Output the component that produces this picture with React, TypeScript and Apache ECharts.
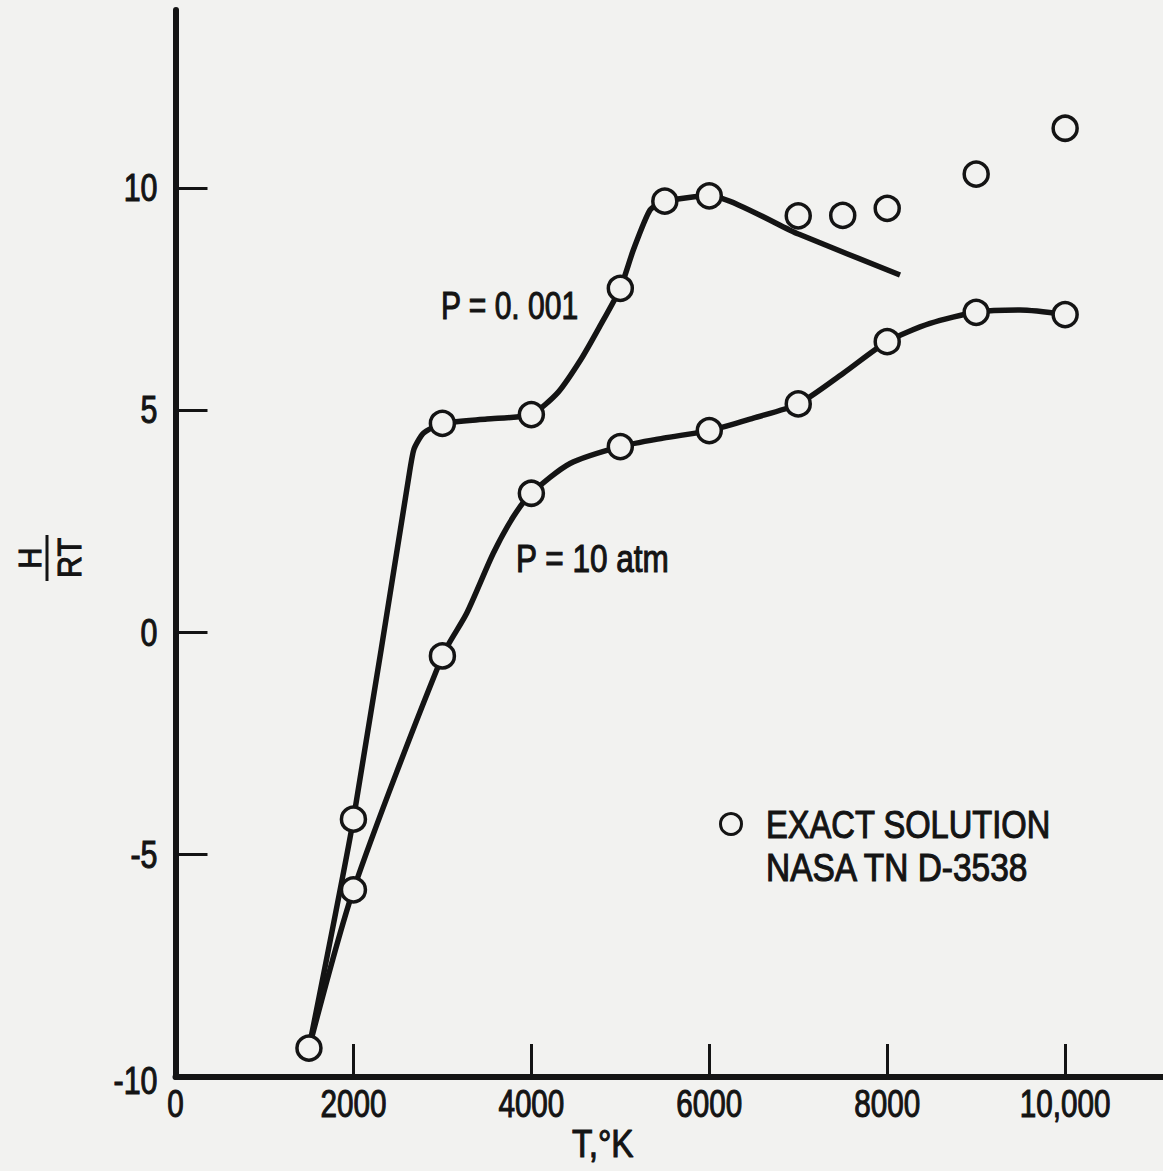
import React, { useEffect, useRef } from "react";
import * as echarts from "echarts";

// ---- data ----
const xTickValues = [2000, 4000, 6000, 8000, 10000];
const xLabelValues = [0, 2000, 4000, 6000, 8000, 10000];
const yTickValues = [-5, 0, 5, 10];
const yLabelValues = [-10, -5, 0, 5, 10];

// faired curve P = 0.001
const curveLowPressure: [number, number][] = [
  [1500, -9.35], [2000, -4.2], [2617, 3.43], [2680, 4.12], [2786, 4.48],
  [3000, 4.7], [3500, 4.8], [4000, 4.9], [4300, 5.4], [4560, 6.15],
  [4760, 6.85], [5000, 7.74], [5146, 8.6], [5334, 9.5], [5500, 9.7],
  [6000, 9.82], [7003, 8.96], [8144, 8.04],
];
// faired curve P = 10 atm
const curveHighPressure: [number, number][] = [
  [1500, -9.35], [2000, -5.79], [3000, -0.53], [3273, 0.43], [3572, 1.78],
  [3797, 2.6], [4000, 3.13], [4435, 3.8], [5000, 4.18], [5483, 4.37],
  [6000, 4.54], [6495, 4.82], [7000, 5.14], [7507, 5.83], [8000, 6.54],
  [8481, 6.95], [9000, 7.2], [9493, 7.25], [10000, 7.15],
];
// exact solution, NASA TN D-3538
const exactLowPressure: [number, number][] = [
  [1500, -9.35], [2000, -4.2], [3000, 4.7], [4000, 4.9], [5000, 7.74],
  [5500, 9.7], [6000, 9.82], [7000, 9.37], [7500, 9.38], [8000, 9.54],
  [9000, 10.31], [10000, 11.34],
];
const exactHighPressure: [number, number][] = [
  [2000, -5.79], [3000, -0.53], [4000, 3.13], [5000, 4.18], [6000, 4.54],
  [7000, 5.14], [8000, 6.54], [9000, 7.2], [10000, 7.15],
];

const labelLow = "P = 0. 001";
const labelHigh = "P = 10 atm";
const legendLine1 = "EXACT SOLUTION";
const legendLine2 = "NASA TN D-3538";
const xTitle = "T,°K";

const BG = "#f2f2f0";
const INK = "#141414";
const FONT = "'Liberation Sans', Arial, sans-serif";
const FS = 38;

const fmtX = (v: number) => (v === 10000 ? "10,000" : String(v));

export default function App() {
  const ref = useRef<HTMLDivElement>(null);

  useEffect(() => {
    if (!ref.current) return;
    const chart = echarts.init(ref.current, null, { renderer: "svg" });
    const textBase = {
      fontFamily: FONT,
      fontSize: FS,
      fontWeight: "normal",
      fill: INK,
      stroke: INK,
      lineWidth: 1.1,
    };
    chart.setOption({
      animation: false,
      backgroundColor: BG,
      grid: { left: 175.5, right: 0, top: 10, bottom: 94 },
      xAxis: {
        type: "value",
        min: 0,
        max: 11100,
        splitLine: { show: false },
        axisLine: { show: true, onZero: false, lineStyle: { color: INK, width: 6 } },
        axisTick: {
          show: true,
          inside: true,
          length: 33,
          customValues: xTickValues,
          lineStyle: { color: INK, width: 3 },
        },
        axisLabel: { show: false },
      },
      yAxis: {
        type: "value",
        min: -10,
        max: 14,
        splitLine: { show: false },
        axisLine: { show: true, onZero: false, lineStyle: { color: INK, width: 6 } },
        axisTick: {
          show: true,
          inside: true,
          length: 32,
          customValues: yTickValues,
          lineStyle: { color: INK, width: 3 },
        },
        axisLabel: { show: false },
      },
      series: [
        {
          name: "P = 0.001",
          type: "line",
          data: curveLowPressure,
          showSymbol: false,
          smooth: 0.2,
          lineStyle: { color: INK, width: 5.5 },
          z: 2,
        },
        {
          name: "P = 10 atm",
          type: "line",
          data: curveHighPressure,
          showSymbol: false,
          smooth: 0.25,
          lineStyle: { color: INK, width: 5.5 },
          z: 2,
        },
        {
          name: "Exact solution P = 0.001",
          type: "scatter",
          data: exactLowPressure,
          symbol: "circle",
          symbolSize: 24,
          itemStyle: { color: BG, borderColor: INK, borderWidth: 3.5, opacity: 1 },
          z: 3,
        },
        {
          name: "Exact solution P = 10 atm",
          type: "scatter",
          data: exactHighPressure,
          symbol: "circle",
          symbolSize: 24,
          itemStyle: { color: BG, borderColor: INK, borderWidth: 3.5, opacity: 1 },
          z: 3,
        },
      ],
    });

    // tick labels placed through the chart's own scales, drawn condensed
    const xAxisY = chart.convertToPixel({ yAxisIndex: 0 }, -10) as number;
    const yAxisX = chart.convertToPixel({ xAxisIndex: 0 }, 0) as number;
    const xLabels = xLabelValues.map((v) => ({
      type: "text",
      x: chart.convertToPixel({ xAxisIndex: 0 }, v) as number,
      y: xAxisY + 27,
      scaleX: 0.78,
      style: { ...textBase, text: fmtX(v), align: "center", verticalAlign: "middle" },
    }));
    const yLabels = yLabelValues.map((v) => ({
      type: "text",
      x: yAxisX - 18,
      y: (chart.convertToPixel({ yAxisIndex: 0 }, v) as number) + (v === -10 ? 4 : 0),
      scaleX: 0.8,
      style: { ...textBase, text: String(v), align: "right", verticalAlign: "middle" },
    }));

    chart.setOption({
      graphic: [
        ...xLabels,
        ...yLabels,
        {
          type: "text",
          x: 441,
          y: 306,
          scaleX: 0.79,
          style: { ...textBase, text: labelLow, align: "left", verticalAlign: "middle" },
        },
        {
          type: "text",
          x: 516,
          y: 558,
          scaleX: 0.83,
          style: { ...textBase, text: labelHigh, align: "left", verticalAlign: "middle" },
        },
        {
          type: "circle",
          shape: { cx: 731, cy: 824, r: 10.5 },
          style: { fill: BG, stroke: INK, lineWidth: 3 },
        },
        {
          type: "text",
          x: 766,
          y: 825,
          scaleX: 0.86,
          style: { ...textBase, text: legendLine1, align: "left", verticalAlign: "middle" },
        },
        {
          type: "text",
          x: 766,
          y: 868,
          scaleX: 0.88,
          style: { ...textBase, text: legendLine2, align: "left", verticalAlign: "middle" },
        },
        {
          type: "text",
          x: 572,
          y: 1144,
          scaleX: 0.88,
          style: { ...textBase, text: xTitle, align: "left", verticalAlign: "middle" },
        },
        {
          type: "group",
          x: 47,
          y: 558,
          rotation: Math.PI / 2,
          children: [
            {
              type: "text",
              x: 0,
              y: -2,
              scaleX: 0.9,
              style: { ...textBase, fontSize: 32, text: "H", align: "center", verticalAlign: "bottom" },
            },
            {
              type: "line",
              shape: { x1: -23, y1: 0, x2: 23, y2: 0 },
              style: { stroke: INK, lineWidth: 3 },
            },
            {
              type: "text",
              x: 0,
              y: 5,
              scaleX: 0.9,
              style: { ...textBase, fontSize: 34, text: "RT", align: "center", verticalAlign: "top" },
            },
          ],
        },
      ],
    });
    return () => chart.dispose();
  }, []);

  return (
    <div
      ref={ref}
      style={{ position: "absolute", left: 0, top: 0, width: 1163, height: 1171, background: BG }}
    />
  );
}
